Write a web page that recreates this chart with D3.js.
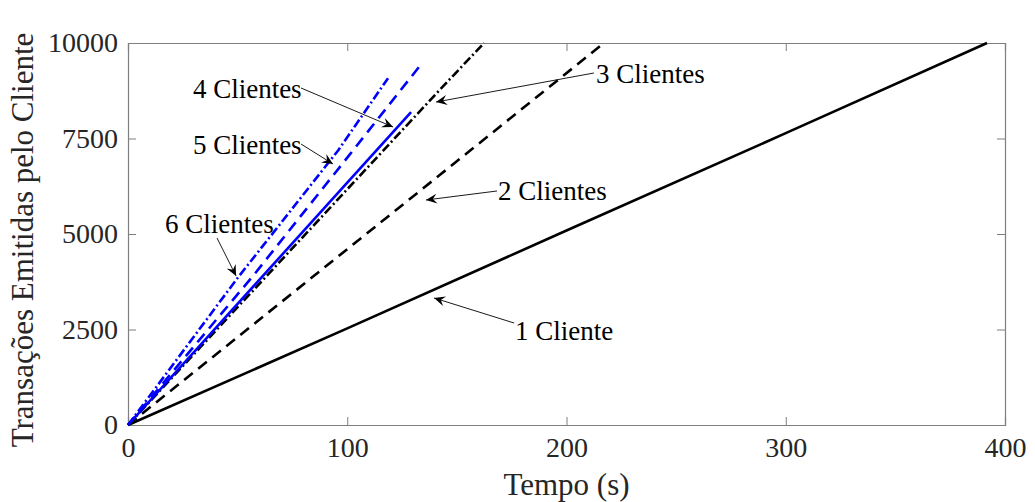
<!DOCTYPE html>
<html>
<head>
<meta charset="utf-8">
<script src="https://cdn.jsdelivr.net/npm/d3@7"></script>
<style>
  html, body { margin: 0; padding: 0; background: #fff; }
  svg { display: block; font-family: "Liberation Serif", "Times New Roman", serif; }
</style>
</head>
<body>
<svg id="chart" width="1035" height="502"></svg>
<script>
// ---- data ----
const xTicks = [0, 100, 200, 300, 400];
const yTicks = [0, 2500, 5000, 7500, 10000];
const xLabel = "Tempo (s)";
const yLabel = "Transações Emitidas pelo Cliente";

const t1 = [0, 100, 200, 300, 391.8];
const v1 = [0, 2530, 5090, 7640, 10000];
const t2 = [0, 142.3, 217.1];
const v2 = [0, 6550, 10000];
const t3 = [0, 142.3, 162.4];
const v3 = [0, 8780, 10000];
const t4 = [0, 129.1];
const v4 = [0, 8190];
const t5 = [0, 57, 101, 132.7];
const v5 = [0, 3900, 7070, 9370];
const t6 = [0, 50, 96, 118.6];
const v6 = [0, 3850, 7200, 9080];

const seriesNames = ["1 Cliente", "2 Clientes", "3 Clientes", "4 Clientes", "5 Clientes", "6 Clientes"];

// annotation anchors in data units: text left/center, arrow start, arrow tip
const annText  = [[176.5, 2461], [168.8, 6126], [213.5, 9188], [29.6, 8796], [29.6, 7330], [16.9, 5262]];
const annFrom  = [[176.1, 2670], [168.3, 6126], [212.5, 9215], [78.9, 8822], [78.9, 7356], [40.6, 4895]];
const annTo    = [[139.6, 3325], [135.9, 5890], [140.5, 8455], [120.9, 7801], [93.5, 6832], [49.3, 3901]];

// ---- layout ----
const svg = d3.select("#chart");
const mLeft = 128, mRight = 1005, mTop = 43, mBottom = 425;
const x = d3.scaleLinear().domain([0, 400]).range([mLeft, mRight]);
const y = d3.scaleLinear().domain([0, 10000]).range([mBottom, mTop]);

const styles = [
  { color: "#000", dash: null },
  { color: "#000", dash: "11,7" },
  { color: "#000", dash: "9,3,2,3" },
  { color: "#0000ff", dash: null },
  { color: "#0000ff", dash: "11,7" },
  { color: "#0000ff", dash: "9,3,2,3" }
];
const series = [[t1, v1], [t2, v2], [t3, v3], [t4, v4], [t5, v5], [t6, v6]];

// axes frame with inner ticks (box)
const tickLen = 8;
const axisColor = "#7f7f7f";
const g = svg.append("g");

const xAxisB = d3.axisBottom(x).tickValues(xTicks).tickSize(-tickLen).tickPadding(12).tickFormat(d3.format("d"));
const xAxisT = d3.axisTop(x).tickValues(xTicks).tickSize(-tickLen).tickFormat("");
const yAxisL = d3.axisLeft(y).tickValues(yTicks).tickSize(-tickLen).tickPadding(10).tickFormat(d3.format("d"));
const yAxisR = d3.axisRight(y).tickValues(yTicks).tickSize(-tickLen).tickFormat("");

function styleAxis(sel) {
  sel.selectAll("path.domain").attr("stroke", axisColor).attr("stroke-width", 1.2);
  sel.selectAll(".tick line").attr("stroke", axisColor).attr("stroke-width", 1);
  sel.selectAll(".tick text").attr("fill", "#262626")
    .style("font-family", '"Liberation Serif", "Times New Roman", serif')
    .style("font-size", "28px");
}
g.append("g").attr("transform", `translate(0,${mBottom})`).call(xAxisB).call(styleAxis);
g.append("g").attr("transform", `translate(0,${mTop})`).call(xAxisT).call(styleAxis);
g.append("g").attr("transform", `translate(${mLeft},0)`).call(yAxisL).call(styleAxis);
g.append("g").attr("transform", `translate(${mRight},0)`).call(yAxisR).call(styleAxis);

// lines
const line = d3.line().x(d => x(d[0])).y(d => y(d[1]));
series.forEach((s, i) => {
  const pts = s[0].map((t, k) => [t, s[1][k]]);
  svg.append("path")
    .datum(pts)
    .attr("d", line)
    .attr("fill", "none")
    .attr("stroke", styles[i].color)
    .attr("stroke-width", 2.6)
    .attr("stroke-dasharray", styles[i].dash)
    .attr("stroke-linejoin", "round");
});

// annotations
function arrowHead(x1, y1, x2, y2) {
  const L = 11, W = 5, back = 7;
  const a = Math.atan2(y2 - y1, x2 - x1);
  const ca = Math.cos(a), sa = Math.sin(a);
  const bx = x2 - L * ca, by = y2 - L * sa;
  const p1 = [bx - W * sa, by + W * ca];
  const p2 = [bx + W * sa, by - W * ca];
  const ix = x2 - back * ca, iy = y2 - back * sa;
  return `M${x2},${y2}L${p1[0]},${p1[1]}L${ix},${iy}L${p2[0]},${p2[1]}Z`;
}
seriesNames.forEach((name, i) => {
  const fx = x(annFrom[i][0]), fy = y(annFrom[i][1]);
  const tx = x(annTo[i][0]), ty = y(annTo[i][1]);
  svg.append("line")
    .attr("x1", fx).attr("y1", fy).attr("x2", tx).attr("y2", ty)
    .attr("stroke", "#000").attr("stroke-width", 0.9);
  svg.append("path").attr("d", arrowHead(fx, fy, tx, ty)).attr("fill", "#000");
  svg.append("text")
    .attr("x", x(annText[i][0])).attr("y", y(annText[i][1]))
    .attr("dy", "0.35em")
    .attr("fill", "#000")
    .style("font-size", "27px")
    .text(name);
});

// axis labels
svg.append("text")
  .attr("x", (mLeft + mRight) / 2).attr("y", 495)
  .attr("text-anchor", "middle").attr("fill", "#262626")
  .style("font-size", "31px")
  .text(xLabel);
svg.append("text")
  .attr("transform", `translate(33,240) rotate(-90)`)
  .attr("text-anchor", "middle").attr("fill", "#262626")
  .style("font-size", "31px")
  .text(yLabel);
</script>
</body>
</html>
